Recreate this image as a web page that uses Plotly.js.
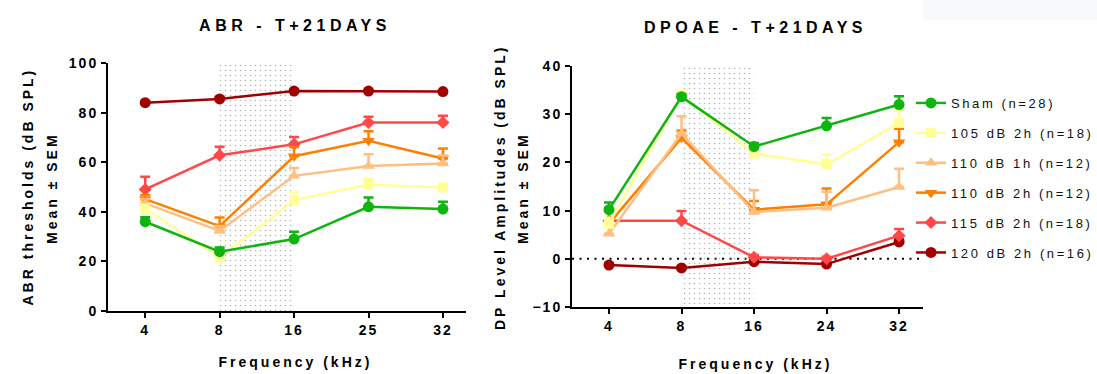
<!DOCTYPE html>
<html>
<head>
<meta charset="utf-8">
<script src="https://cdn.plot.ly/plotly-3.0.1.min.js"></script>
<style>
  html, body { margin: 0; padding: 0; background: #fff; }
  #chart { width: 1097px; height: 374px; }
  .xtick text, .ytick text, .x2tick text, .y2tick text { letter-spacing: 2px; }
  .legendtext { letter-spacing: 2.6px; }
  .gtitle { letter-spacing: 4.5px; }
</style>
</head>
<body>
<div id="chart"></div>
<script>
// ---------------- DATA ----------------
const freqABR = ['4', '8', '16', '25', '32'];
const freqDP  = ['4', '8', '16', '24', '32'];

const groupNames = ['Sham (n=28)', '105 dB 2h (n=18)', '110 dB 1h (n=12)', '110 dB 2h (n=12)', '115 dB 2h (n=18)', '120 dB 2h (n=16)'];

// ABR thresholds (dB SPL), mean and upper SEM
const abrSham   = [36.0, 23.9, 29.0, 42.0, 41.1];
const abr105_2h = [41.3, 21.5, 44.7, 51.0, 49.8];
const abr110_1h = [43.4, 32.3, 54.5, 58.5, 59.5];
const abr110_2h = [45.1, 34.2, 62.4, 68.6, 61.5];
const abr115_2h = [49.0, 62.8, 67.2, 76.0, 76.0];
const abr120_2h = [84.0, 85.5, 88.7, 88.7, 88.5];

const abrSemSham   = [1.8, 1.7, 3.0, 3.8, 3.0];
const abrSem105_2h = [1.5, 1.5, 3.3, 2.4, 1.5];
const abrSem110_1h = [1.8, 2.0, 3.2, 4.7, 3.2];
const abrSem110_2h = [1.6, 3.5, 3.7, 3.9, 4.0];
const abrSem115_2h = [5.1, 3.4, 3.0, 2.3, 2.7];
const abrSem120_2h = [0.5, 0.8, 0.5, 0.4, 0.4];

// DPOAE level amplitudes (dB SPL), mean and upper SEM
const dpSham   = [10.2, 33.6, 23.3, 27.6, 32.0];
const dp105_2h = [7.3, 34.0, 21.8, 19.6, 28.2];
const dp110_1h = [5.2, 26.0, 9.7, 10.6, 14.9];
const dp110_2h = [7.3, 25.1, 10.2, 11.3, 24.2];
const dp115_2h = [7.9, 7.9, 0.3, 0.0, 4.8];
const dp120_2h = [-1.3, -1.9, -0.6, -1.1, 3.5];

const dpSemSham   = [1.5, 0.6, 0.7, 1.6, 1.7];
const dpSem105_2h = [1.2, 0.8, 0.8, 2.0, 2.6];
const dpSem110_1h = [1.5, 3.6, 4.5, 3.3, 3.8];
const dpSem110_2h = [2.6, 1.5, 1.8, 3.3, 2.8];
const dpSem115_2h = [0.5, 2.0, 0.5, 0.4, 1.4];
const dpSem120_2h = [0.3, 0.3, 0.3, 0.3, 0.5];

const noLowerErr = [0, 0, 0, 0, 0];

// shaded band limits (8 to 16 kHz)
const bandFreq = ['8', '16', '16', '8', '8'];
const bandABR = [0, 0, 100, 100, 0];
const bandDP  = [-10, -10, 40, 40, -10];

// ---------------- STYLE ----------------
const colors  = ['#10b410', '#ffff99', '#ffbf80', '#ff8000', '#ff4848', '#a00000'];
const symbols = ['circle', 'square', 'triangle-up', 'triangle-down', 'diamond', 'circle'];
const sizes   = [11, 10, 11, 11, 10, 11];

const abrMeans = [abrSham, abr105_2h, abr110_1h, abr110_2h, abr115_2h, abr120_2h];
const abrSems  = [abrSemSham, abrSem105_2h, abrSem110_1h, abrSem110_2h, abrSem115_2h, abrSem120_2h];
const dpMeans  = [dpSham, dp105_2h, dp110_1h, dp110_2h, dp115_2h, dp120_2h];
const dpSems   = [dpSemSham, dpSem105_2h, dpSem110_1h, dpSem110_2h, dpSem115_2h, dpSem120_2h];

const traces = [];
const pattern = {shape: '.', fgcolor: '#b4b4b4', bgcolor: 'rgba(0,0,0,0)', size: 5, solidity: 0.08};
traces.push({x: bandFreq, y: bandABR, xaxis: 'x', yaxis: 'y', mode: 'lines', fill: 'toself',
  fillcolor: 'rgba(0,0,0,0)', fillpattern: pattern, line: {width: 0}, showlegend: false, hoverinfo: 'skip'});
traces.push({x: bandFreq, y: bandDP, xaxis: 'x2', yaxis: 'y2', mode: 'lines', fill: 'toself',
  fillcolor: 'rgba(0,0,0,0)', fillpattern: pattern, line: {width: 0}, showlegend: false, hoverinfo: 'skip'});

function series(i, xs, ys, errs, xa, ya, showLegend) {
  return {
    x: xs, y: ys, xaxis: xa, yaxis: ya, name: groupNames[i],
    type: 'scatter', mode: 'lines+markers', cliponaxis: false,
    legendgroup: 'g' + i, legendrank: i + 1, showlegend: showLegend,
    line: {color: colors[i], width: 2.5},
    marker: {color: colors[i], symbol: symbols[i], size: sizes[i]},
    error_y: {type: 'data', symmetric: false, array: errs, arrayminus: noLowerErr,
      color: colors[i], thickness: 2.5, width: 5}
  };
}
for (let i = 5; i >= 0; i--) {
  traces.push(series(i, freqABR, abrMeans[i], abrSems[i], 'x', 'y', true));
}
for (let i = 5; i >= 0; i--) {
  traces.push(series(i, freqDP, dpMeans[i], dpSems[i], 'x2', 'y2', false));
}

const W = 1097, H = 374;
const px = v => v / W;
const py = v => (H - v) / H;

const axisCommon = {
  showline: true, linecolor: '#000', linewidth: 2,
  ticks: 'outside', ticklen: 5, tickwidth: 2, tickcolor: '#000',
  showgrid: false, zeroline: false, fixedrange: true,
  tickfont: {size: 14, weight: 'bold', color: '#000'}
};

const layout = {
  width: W, height: H,
  margin: {l: 0, r: 0, t: 0, b: 0},
  paper_bgcolor: '#fff', plot_bgcolor: 'rgba(0,0,0,0)',
  font: {family: 'Liberation Sans, Arial, sans-serif', color: '#000'},
  title: {text: 'ABR - T+21DAYS', x: px(295), y: py(25), xanchor: 'center', yanchor: 'middle',
    xref: 'paper', yref: 'paper', font: {size: 16, weight: 'bold', color: '#000'}},
  xaxis: Object.assign({}, axisCommon, {domain: [px(108), px(466)], anchor: 'y', type: 'category',
    categoryorder: 'array', categoryarray: freqABR, range: [-0.5, 4.31]}),
  yaxis: Object.assign({}, axisCommon, {domain: [py(311), py(63)], anchor: 'x', range: [0, 100], dtick: 20}),
  xaxis2: Object.assign({}, axisCommon, {domain: [px(572), px(923)], anchor: 'y2', type: 'category',
    categoryorder: 'array', categoryarray: freqDP, range: [-0.51, 4.33]}),
  yaxis2: Object.assign({}, axisCommon, {domain: [py(307), py(66)], anchor: 'x2', range: [-10, 40], dtick: 10}),
  legend: {x: px(890), y: py(88), xanchor: 'left', yanchor: 'top', tracegroupgap: 10,
    font: {size: 13, color: '#111'}, bgcolor: 'rgba(0,0,0,0)'},
  shapes: [
    {type: 'line', xref: 'x2 domain', yref: 'y2', x0: 0, x1: 1, y0: 0, y1: 0, layer: 'below',
      line: {color: '#000', width: 2, dash: '2px,5.5px'}},
    {type: 'rect', xref: 'paper', yref: 'paper', x0: px(923), x1: 1, y0: py(20), y1: 1,
      fillcolor: '#f7fafa', line: {width: 0}, layer: 'below'}
  ],
  annotations: [
    {text: 'DPOAE - T+21DAYS', xref: 'paper', yref: 'paper', x: px(755), y: py(28), showarrow: false,
      xanchor: 'center', yanchor: 'middle', font: {size: 16, weight: 'bold', color: '#000'}},
    {text: 'ABR thresholds (dB SPL)', xref: 'paper', yref: 'paper', x: px(28), y: py(187), showarrow: false,
      textangle: -90, xanchor: 'center', yanchor: 'middle', font: {size: 14, weight: 'bold', color: '#000'}},
    {text: 'Mean ± SEM', xref: 'paper', yref: 'paper', x: px(52), y: py(188), showarrow: false,
      textangle: -90, xanchor: 'center', yanchor: 'middle', font: {size: 14, weight: 'bold', color: '#000'}},
    {text: 'Frequency (kHz)', xref: 'paper', yref: 'paper', x: px(295), y: py(362), showarrow: false,
      xanchor: 'center', yanchor: 'middle', font: {size: 14, weight: 'bold', color: '#000'}},
    {text: 'DP Level Amplitudes (dB SPL)', xref: 'paper', yref: 'paper', x: px(500), y: py(188), showarrow: false,
      textangle: -90, xanchor: 'center', yanchor: 'middle', font: {size: 14, weight: 'bold', color: '#000'}},
    {text: 'Mean ± SEM', xref: 'paper', yref: 'paper', x: px(523), y: py(188), showarrow: false,
      textangle: -90, xanchor: 'center', yanchor: 'middle', font: {size: 14, weight: 'bold', color: '#000'}},
    {text: 'Frequency (kHz)', xref: 'paper', yref: 'paper', x: px(755), y: py(364), showarrow: false,
      xanchor: 'center', yanchor: 'middle', font: {size: 14, weight: 'bold', color: '#000'}}
  ]
};

Plotly.newPlot('chart', traces, layout, {displayModeBar: false, staticPlot: true}).then(gd => {
  gd.querySelectorAll('.annotation-text').forEach(t => {
    t.style.letterSpacing = t.textContent.indexOf('DPOAE') >= 0 ? '4.5px' : '3px';
  });
  // place the legend so that its texts start where the reference's do
  const leg = gd.querySelector('.legend');
  const firstText = gd.querySelector('.legend .legendtext');
  if (leg && firstText) {
    const svgLeft = gd.querySelector('.main-svg').getBoundingClientRect().left;
    const dx = 951 - (firstText.getBoundingClientRect().left - svgLeft);
    const m = /translate\(([-\d.]+)[ ,]+([-\d.]+)\)/.exec(leg.getAttribute('transform') || '');
    if (m) leg.setAttribute('transform', 'translate(' + (parseFloat(m[1]) + dx) + ',' + m[2] + ')');
    // widen the legend clip so no text is cut
    leg.querySelectorAll('clipPath rect, .scrollbox ~ clipPath rect').forEach(r => r.setAttribute('width', 400));
  }
  const defsRects = document.querySelectorAll('defs clipPath[id^="legend"] rect');
  defsRects.forEach(r => r.setAttribute('width', 400));
});
</script>
</body>
</html>
